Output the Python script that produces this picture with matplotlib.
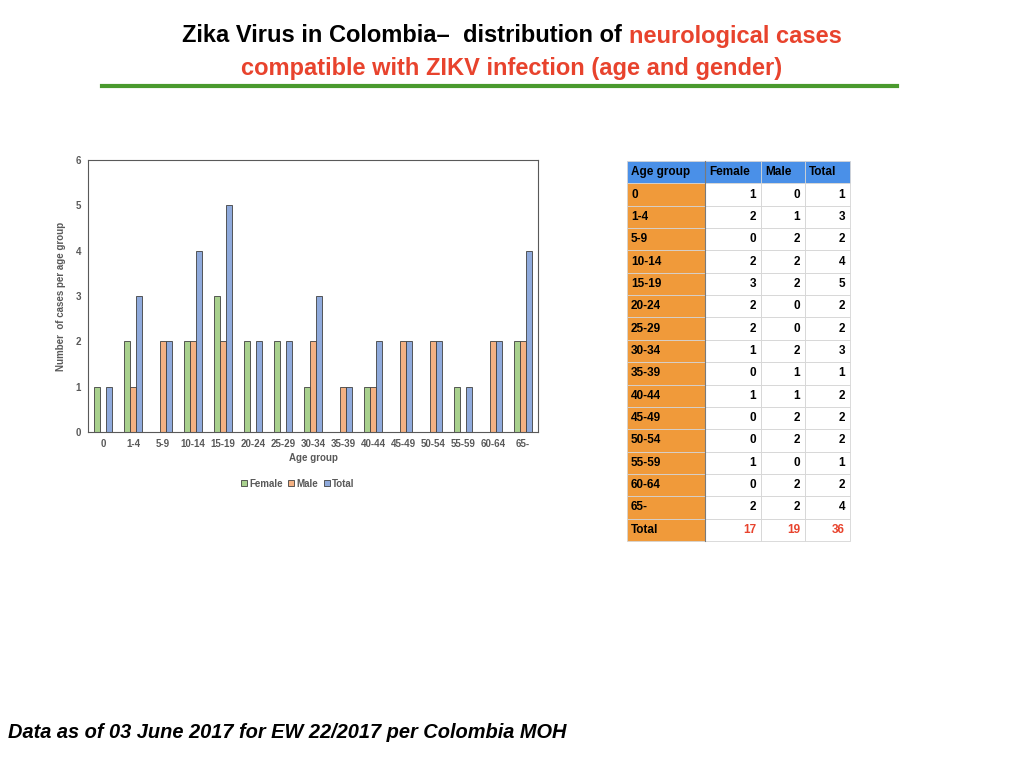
import numpy as np
from matplotlib import pyplot as plt
from matplotlib.patches import Rectangle

# data
age_groups = ['0', '1-4', '5-9', '10-14', '15-19', '20-24', '25-29', '30-34',
              '35-39', '40-44', '45-49', '50-54', '55-59', '60-64', '65-']
female = [1, 2, 0, 2, 3, 2, 2, 1, 0, 1, 0, 0, 1, 0, 2]
male = [0, 1, 2, 2, 2, 0, 0, 2, 1, 1, 2, 2, 0, 2, 2]
total = [1, 3, 2, 4, 5, 2, 2, 3, 1, 2, 2, 2, 1, 2, 4]
table_cols = ['Age group', 'Female', 'Male', 'Total']

GREEN = '#a9d18e'
ORANGE = '#f4b183'
BLUE = '#8faadc'
RED = '#e8432d'
HEAD_BLUE = '#4a90e8'
ROW_ORANGE = '#f09a3a'

plt.rcParams['font.family'] = ['Liberation Sans', 'DejaVu Sans']

my_dpi = 100
fig = plt.figure(figsize=(1024 / my_dpi, 768 / my_dpi), dpi=my_dpi)
W, H = 1024, 768


def fx(px):
    return px / W


def fy(py):
    return 1 - py / H


# ---- title ----
title_font = dict(fontsize=17, fontweight='bold',
                  family=['Liberation Sans Narrow', 'Liberation Sans'])
t1 = fig.text(0, fy(36), 'Zika Virus in Colombia\u2013  distribution of ',
              color='black', va='center', ha='left', **title_font)
t2 = fig.text(0, fy(36), 'neurological cases', color=RED,
              va='center', ha='left', **title_font)
renderer = fig.canvas.get_renderer()
w1 = t1.get_window_extent(renderer).width
w2 = t2.get_window_extent(renderer).width
start = (W - w1 - w2) / 2
t1.set_x(fx(start))
t2.set_x(fx(start + w1))
fig.text(0.5, fy(68), 'compatible with ZIKV infection (age and gender)',
         color=RED, va='center', ha='center', **title_font)
fig.add_artist(plt.Line2D([fx(102), fx(897)], [fy(86), fy(86)],
                          color='#4a9a2e', lw=3))

# ---- bar chart ----
ax = fig.add_axes([fx(88), fy(432), fx(538) - fx(88), fy(160) - fy(432)])
x = np.arange(len(age_groups))
width = 0.19
edge = dict(edgecolor='#404040', linewidth=0.6)
ax.bar(x - width, female, width, color=GREEN, label='Female', **edge)
ax.bar(x, male, width, color=ORANGE, label='Male', **edge)
ax.bar(x + width, total, width, color=BLUE, label='Total', **edge)

ax.set_xlim(-0.5, len(age_groups) - 0.5)
ax.set_ylim(0, 6)
ax.set_xticks(x)
ax.set_xticklabels(age_groups)
ax.set_yticks(range(7))
ax.tick_params(length=0, labelsize=7, labelcolor='#595959', pad=5)
for lab in ax.get_xticklabels() + ax.get_yticklabels():
    lab.set_fontweight('bold')
for s in ax.spines.values():
    s.set_color('#595959')
    s.set_linewidth(0.8)
ax.set_xlabel('Age group', fontsize=7, fontweight='bold', color='#595959',
              labelpad=3)
ax.set_ylabel('Number  of cases per age group', fontsize=7,
              fontweight='bold', color='#595959', labelpad=7)
leg = ax.legend(loc='center', bbox_to_anchor=(0.466, -0.19), ncol=3,
                frameon=False, fontsize=7, handlelength=0.6,
                handleheight=0.6, handletextpad=0.2, columnspacing=0.6)
for t in leg.get_texts():
    t.set_color('#595959')
    t.set_fontweight('bold')

# ---- table ----
col_edges = [627, 705, 761, 805, 850]
top, bottom = 161, 541
n_rows = len(age_groups) + 2
row_h = (bottom - top) / n_rows

rows = [[g, f, m, t] for g, f, m, t in zip(age_groups, female, male, total)]
rows.append(['Total', sum(female), sum(male), sum(total)])

cell_font = dict(fontsize=8.5, fontweight='bold', va='center')
for r in range(n_rows):
    y0 = top + r * row_h
    for c in range(4):
        x0, x1 = col_edges[c], col_edges[c + 1]
        if r == 0:
            face = HEAD_BLUE
        elif c == 0:
            face = ROW_ORANGE
        else:
            face = 'white'
        fig.add_artist(Rectangle((fx(x0), fy(y0 + row_h)), fx(x1 - x0),
                                 row_h / H, facecolor=face,
                                 edgecolor='#d4d4d4', linewidth=0.6))
        if r == 0:
            fig.text(fx(x0 + 4), fy(y0 + row_h / 2), table_cols[c],
                     ha='left', color='black', **cell_font)
            continue
        val = rows[r - 1][c]
        if c == 0:
            fig.text(fx(x0 + 4), fy(y0 + row_h / 2), str(val), ha='left',
                     color='black', **cell_font)
        else:
            color = RED if r == n_rows - 1 else 'black'
            fig.text(fx(x1 - 5), fy(y0 + row_h / 2), str(val), ha='right',
                     color=color, **cell_font)
fig.add_artist(plt.Line2D([fx(705), fx(705)], [fy(top), fy(bottom)],
                          color='#7a7a7a', lw=0.8))

# ---- footer ----
fig.text(fx(8), fy(733), 'Data as of 03 June 2017 for EW 22/2017 per Colombia MOH',
         fontsize=14.4, fontweight='bold', fontstyle='italic', va='center',
         ha='left', color='black')

fig.savefig('out.png', dpi=my_dpi)
